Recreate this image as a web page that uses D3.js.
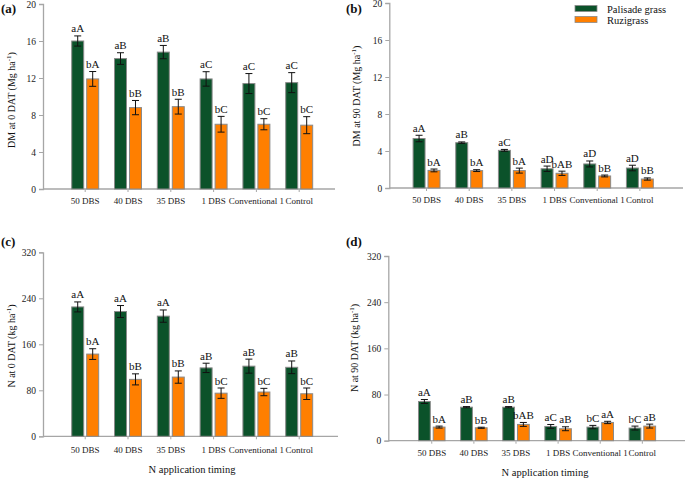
<!DOCTYPE html>
<html lang="en">
<head>
<meta charset="utf-8">
<title>N application timing</title>
<script src="https://d3js.org/d3.v7.js"></script>
<style>
  body { margin: 0; background: #fff; }
  text { font-family: "Liberation Serif", "DejaVu Serif", "Times New Roman", serif; }
</style>
</head>
<body>
<svg id="chart"></svg>
<script>
// categories and series
const timings = ['50 DBS', '40 DBS', '35 DBS', '1 DBS', 'Conventional 1', 'Control'];
const species = ['Palisade grass', 'Ruzigrass'];

// (a) DM at 0 DAT
const dm0_pal = [16.0, 14.1, 14.8, 11.9, 11.4, 11.5];
const dm0_pal_err = [0.55, 0.63, 0.72, 0.78, 1.08, 1.08];
const dm0_ruz = [11.9, 8.8, 8.9, 7.0, 7.0, 6.9];
const dm0_ruz_err = [0.8, 0.77, 0.8, 0.85, 0.6, 0.92];
const dm0_pal_lab = ['aA', 'aB', 'aB', 'aC', 'aC', 'aC'];
const dm0_ruz_lab = ['bA', 'bB', 'bB', 'bC', 'bC', 'bC'];

// (b) DM at 90 DAT
const dm90_pal = [5.35, 4.9, 4.07, 2.08, 2.6, 2.16];
const dm90_pal_err = [0.35, 0.08, 0.1, 0.29, 0.32, 0.3];
const dm90_ruz = [1.9, 1.88, 1.88, 1.59, 1.3, 0.97];
const dm90_ruz_err = [0.15, 0.1, 0.27, 0.23, 0.1, 0.12];
const dm90_pal_lab = ['aA', 'aB', 'aC', 'aD', 'aD', 'aD'];
const dm90_ruz_lab = ['bA', 'bA', 'bA', 'bAB', 'bB', 'bB'];

// (c) N at 0 DAT
const n0_pal = [225, 217, 209, 119, 122, 120];
const n0_pal_err = [8.7, 10.4, 10.7, 8.1, 12.2, 11];
const n0_ruz = [143, 99, 103, 75, 77, 74];
const n0_ruz_err = [9.3, 9.6, 10.7, 9, 6.4, 10];
const n0_pal_lab = ['aA', 'aA', 'aA', 'aB', 'aB', 'aB'];
const n0_ruz_lab = ['bA', 'bB', 'bB', 'bC', 'bC', 'bC'];

// (d) N at 90 DAT
const n90_pal = [67.9, 58.1, 58.1, 24.7, 23.6, 21.9];
const n90_pal_err = [3.4, 1, 1, 3.4, 2.9, 3.4];
const n90_ruz = [23.6, 22.4, 28.2, 20.7, 31.6, 25.3];
const n90_ruz_err = [1.7, 1, 3.4, 3.4, 2, 3.4];
const n90_pal_lab = ['aA', 'aB', 'aB', 'aC', 'bC', 'bC'];
const n90_ruz_lab = ['bA', 'bB', 'bAB', 'aB', 'aA', 'aB'];

const dmTicks = [0, 4, 8, 12, 16, 20];
const nTicks = [0, 80, 160, 240, 320];

const colors = {'Palisade grass': '#0b522a', 'Ruzigrass': '#ff7f00'};
const axisCol = '#a6a6a6';
const serif = '"Liberation Serif", "DejaVu Serif", "Times New Roman", serif';

const w = 685, h = 479;
const svg = d3.select('#chart').attr('width', w).attr('height', h)
  .attr('font-family', serif);

function drawPanel(p) {
  const g = svg.append('g');
  const y = d3.scaleLinear().domain([0, p.ticks[p.ticks.length - 1]]).range([p.y0, p.y1]);
  const x0 = d3.scaleBand().domain(timings).range(p.xr).paddingInner(0.37).paddingOuter(0.185);
  const x1 = d3.scaleBand().domain(species).range([0, x0.bandwidth()]).paddingInner(0.2);

  // y axis
  const yAxis = g.append('g')
    .attr('transform', 'translate(' + p.ax + ',0)')
    .call(d3.axisLeft(y).tickValues(p.ticks).tickSize(4).tickPadding(3))
    .attr('font-family', serif);
  yAxis.select('.domain').attr('stroke', axisCol).attr('stroke-width', 1.3);
  yAxis.selectAll('.tick line').attr('stroke', axisCol);
  yAxis.selectAll('.tick text').attr('font-size', 9.5).attr('fill', '#222');

  // x axis
  const xAxis = g.append('g')
    .attr('transform', 'translate(0,' + p.y0 + ')')
    .call(d3.axisBottom(x0).tickSize(3).tickPadding(p.xpad))
    .attr('font-family', serif);
  xAxis.select('.domain').attr('d', 'M' + p.ax + ',0H' + p.xend).attr('stroke', axisCol).attr('stroke-width', 1.3);
  xAxis.selectAll('.tick line').attr('stroke', axisCol);
  xAxis.selectAll('.tick text').attr('font-size', 9).attr('fill', '#222');

  const rows = timings.map((t, i) => ({
    t: t,
    vals: [
      {s: species[0], v: p.pal[i], e: p.palErr[i], lab: p.palLab[i]},
      {s: species[1], v: p.ruz[i], e: p.ruzErr[i], lab: p.ruzLab[i]}
    ]
  }));

  const grp = g.selectAll('.grp').data(rows).join('g')
    .attr('transform', d => 'translate(' + x0(d.t) + ',0)');

  grp.selectAll('rect').data(d => d.vals).join('rect')
    .attr('x', d => x1(d.s))
    .attr('width', x1.bandwidth())
    .attr('y', d => y(d.v))
    .attr('height', d => y(0) - y(d.v))
    .attr('fill', d => colors[d.s])
    .attr('stroke', '#8a8a8a')
    .attr('stroke-width', 1);

  // error bars
  const cx = d => x1(d.s) + x1.bandwidth() / 2;
  const eb = grp.selectAll('.err').data(d => d.vals).join('g').attr('class', 'err')
    .attr('stroke', '#111').attr('stroke-width', 1);
  eb.append('line')
    .attr('x1', cx).attr('x2', cx)
    .attr('y1', d => y(d.v + d.e)).attr('y2', d => y(d.v - d.e));
  eb.append('line')
    .attr('x1', d => cx(d) - 3.5).attr('x2', d => cx(d) + 3.5)
    .attr('y1', d => y(d.v + d.e)).attr('y2', d => y(d.v + d.e));
  eb.append('line')
    .attr('x1', d => cx(d) - 3.5).attr('x2', d => cx(d) + 3.5)
    .attr('y1', d => y(d.v - d.e)).attr('y2', d => y(d.v - d.e));

  // letters
  grp.selectAll('.lab').data(d => d.vals).join('text').attr('class', 'lab')
    .attr('x', cx)
    .attr('y', d => y(d.v + d.e) - 3.5)
    .attr('text-anchor', 'middle')
    .attr('font-size', 11)
    .attr('fill', '#111')
    .text(d => d.lab);

  // y label
  const yl = g.append('text')
    .attr('transform', 'translate(' + p.ylx + ',' + p.yly + ') rotate(-90)')
    .attr('text-anchor', 'middle')
    .attr('font-size', 10)
    .attr('fill', '#111');
  yl.append('tspan').text(p.ylab + ' (' + p.unit + ' ha');
  yl.append('tspan').attr('font-size', 7).attr('dy', -4).text('-1');
  yl.append('tspan').attr('dy', 4).text(')');

  // panel letter
  g.append('text')
    .attr('x', p.lx).attr('y', p.ly)
    .attr('font-size', 13).attr('font-weight', 'bold')
    .attr('fill', '#111')
    .text(p.letter);

  if (p.xtitle) {
    g.append('text')
      .attr('x', p.xtx).attr('y', p.xty)
      .attr('text-anchor', 'middle')
      .attr('font-size', 10.5)
      .attr('fill', '#111')
      .text('N application timing');
  }
}

drawPanel({letter: '(a)', lx: 1, ly: 13, ticks: dmTicks, ax: 43, xend: 335, y0: 189, y1: 4,
  xr: [63.8, 320.6], xpad: 6, pal: dm0_pal, palErr: dm0_pal_err, ruz: dm0_ruz, ruzErr: dm0_ruz_err,
  palLab: dm0_pal_lab, ruzLab: dm0_ruz_lab, ylab: 'DM at 0 DAT', unit: 'Mg', ylx: 15, yly: 100});

drawPanel({letter: '(b)', lx: 346, ly: 13, ticks: dmTicks, ax: 389.3, xend: 683, y0: 188, y1: 3,
  xr: [405.2, 661.2], xpad: 6, pal: dm90_pal, palErr: dm90_pal_err, ruz: dm90_ruz, ruzErr: dm90_ruz_err,
  palLab: dm90_pal_lab, ruzLab: dm90_ruz_lab, ylab: 'DM at 90 DAT', unit: 'Mg', ylx: 360, yly: 96});

drawPanel({letter: '(c)', lx: 1, ly: 246, ticks: nTicks, ax: 43, xend: 338, y0: 436.3, y1: 252.3,
  xr: [63.8, 320.6], xpad: 7, pal: n0_pal, palErr: n0_pal_err, ruz: n0_ruz, ruzErr: n0_ruz_err,
  palLab: n0_pal_lab, ruzLab: n0_ruz_lab, ylab: 'N at 0 DAT', unit: 'kg', ylx: 15, yly: 346,
  xtitle: true, xtx: 192, xty: 473});

drawPanel({letter: '(d)', lx: 346, ly: 246, ticks: nTicks, ax: 388.3, xend: 685, y0: 440.7, y1: 256,
  xr: [410.7, 663.4], xpad: 6, pal: n90_pal, palErr: n90_pal_err, ruz: n90_ruz, ruzErr: n90_ruz_err,
  palLab: n90_pal_lab, ruzLab: n90_ruz_lab, ylab: 'N at 90 DAT', unit: 'kg', ylx: 358, yly: 348,
  xtitle: true, xtx: 545, xty: 476});

// legend
const legend = svg.append('g').attr('transform', 'translate(575,4)');
legend.selectAll('rect').data(species).join('rect')
  .attr('x', 0).attr('y', (d, i) => i * 11 + 1.5)
  .attr('width', 22).attr('height', 6)
  .attr('fill', d => colors[d])
  .attr('stroke', '#8a8a8a').attr('stroke-width', 0.8);
legend.selectAll('text').data(species).join('text')
  .attr('x', 32).attr('y', (d, i) => i * 11 + 8.5)
  .attr('font-size', 10.5).attr('fill', '#111')
  .text(d => d);
</script>
</body>
</html>
